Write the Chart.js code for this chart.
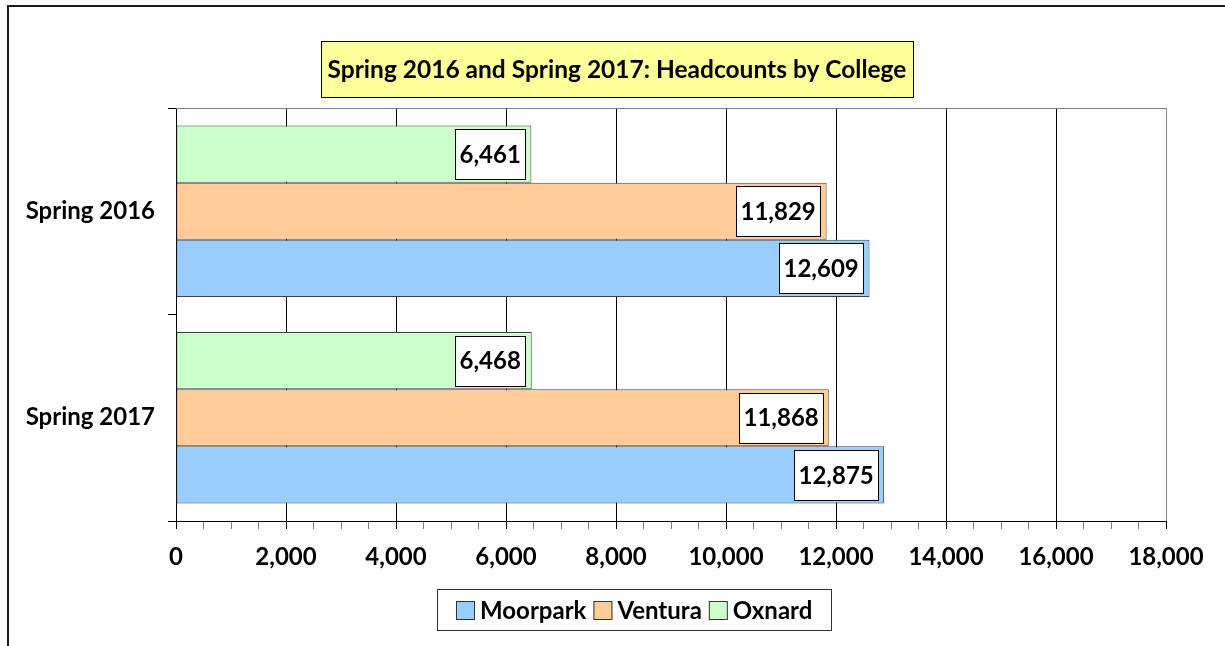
<!DOCTYPE html>
<html>
<head>
<meta charset="utf-8">
<script src="https://cdn.jsdelivr.net/npm/chart.js@4"></script>
<style>
html,body{margin:0;padding:0;background:#fff;}
#wrap{position:relative;width:1225px;height:646px;}
</style>
</head>
<body>
<div id="wrap"><canvas id="c" width="1225" height="646"></canvas></div>
<script>
const titleText = 'Spring 2016 and Spring 2017: Headcounts by College';
const categories = ['Spring 2016', 'Spring 2017'];
const seriesNames = ['Moorpark', 'Ventura', 'Oxnard'];
const moorpark = [12609, 12875];
const ventura = [11829, 11868];
const oxnard = [6461, 6468];
const xTickLabels = [0, 2000, 4000, 6000, 8000, 10000, 12000, 14000, 16000, 18000];

const colors = { Moorpark: '#99CCFF', Ventura: '#FFCC99', Oxnard: '#CCFFCC' };
const FONT = 'Lato, "Open Sans", sans-serif';
const fmt = v => v.toLocaleString('en-US');

const decor = {
  id: 'decor',
  beforeDraw(chart) {
    const ctx = chart.ctx;
    ctx.save();
    ctx.fillStyle = '#fff';
    ctx.fillRect(0, 0, chart.width, chart.height);
    ctx.strokeStyle = '#1a1a1a';
    ctx.lineWidth = 2;
    ctx.strokeRect(8, 6, chart.width + 40, chart.height + 40);
    ctx.fillStyle = '#FFFF99';
    ctx.fillRect(321, 41, 592, 56);
    ctx.strokeStyle = '#000';
    ctx.lineWidth = 1;
    ctx.strokeRect(321.5, 41.5, 592, 56);
    ctx.fillStyle = '#000';
    ctx.font = 'bold 24.5px ' + FONT;
    ctx.textAlign = 'center';
    ctx.textBaseline = 'middle';
    ctx.fillText(titleText, 617, 70);
    ctx.restore();
  },
  beforeDatasetsDraw(chart) {
    const a = chart.chartArea, ctx = chart.ctx;
    ctx.save();
    ctx.strokeStyle = '#808080';
    ctx.lineWidth = 1;
    ctx.beginPath();
    ctx.moveTo(a.left, Math.round(a.top) + 0.5);
    ctx.lineTo(a.right, Math.round(a.top) + 0.5);
    ctx.stroke();
    ctx.restore();
  },
  afterDatasetsDraw(chart) {
    const ctx = chart.ctx;
    ctx.save();
    ctx.font = 'bold 24px ' + FONT;
    ctx.textBaseline = 'middle';
    ctx.textAlign = 'center';
    chart.data.datasets.forEach((ds, i) => {
      chart.getDatasetMeta(i).data.forEach((bar, j) => {
        const txt = fmt(ds.data[j]);
        const w = ctx.measureText(txt).width + 9;
        const h = 50;
        const right = bar.x - 6;
        const x0 = Math.round(right - w), y0 = Math.round(bar.y - h / 2);
        ctx.fillStyle = '#fff';
        ctx.fillRect(x0, y0, Math.round(w), h);
        ctx.strokeStyle = '#000';
        ctx.lineWidth = 1;
        ctx.strokeRect(x0 + 0.5, y0 + 0.5, Math.round(w), h);
        ctx.fillStyle = '#000';
        ctx.fillText(txt, x0 + w / 2, bar.y + 1);
      });
    });
    ctx.restore();
  },
  afterDraw(chart) {
    const ctx = chart.ctx;
    ctx.save();
    ctx.fillStyle = '#fff';
    ctx.fillRect(437, 589, 394, 41);
    ctx.strokeStyle = '#333';
    ctx.lineWidth = 1;
    ctx.strokeRect(437.5, 589.5, 394, 41);
    ctx.font = 'bold 24px ' + FONT;
    ctx.textBaseline = 'middle';
    ctx.textAlign = 'left';
    const cy = 610;
    const sq = 19, gapIn = 5, gapOut = 7;
    const widths = seriesNames.map(n => ctx.measureText(n).width);
    const total = widths.reduce((a, b) => a + b, 0) + seriesNames.length * (sq + gapIn) + (seriesNames.length - 1) * gapOut;
    let x = Math.round(437 + (394 - total) / 2);
    seriesNames.forEach((n, i) => {
      ctx.fillStyle = colors[n];
      ctx.fillRect(x, cy - 9, sq, sq);
      ctx.strokeStyle = '#333';
      ctx.strokeRect(x + 0.5, cy - 9 + 0.5, sq - 1, sq - 1);
      x += sq + gapIn;
      ctx.fillStyle = '#000';
      ctx.fillText(n, x, cy + 1);
      x += widths[i] + gapOut;
    });
    ctx.restore();
  }
};

const mk = (label, data) => ({
  label, data,
  backgroundColor: colors[label],
  borderColor: '#404040',
  borderWidth: 1,
  borderSkipped: false,
  categoryPercentage: 0.83,
  barPercentage: 1.0
});

new Chart(document.getElementById('c'), {
  type: 'bar',
  data: {
    labels: categories,
    datasets: [mk('Oxnard', oxnard), mk('Ventura', ventura), mk('Moorpark', moorpark)]
  },
  options: {
    indexAxis: 'y',
    responsive: false,
    animation: false,
    layout: { padding: { top: 108, right: 59, bottom: 0, left: 0 } },
    plugins: { legend: { display: false }, title: { display: false }, tooltip: { enabled: false } },
    scales: {
      x: {
        min: 0, max: 18000,
        afterBuildTicks: s => {
          const t = [];
          for (let v = 0; v <= 18000; v += 500) t.push({ value: v });
          s.ticks = t;
        },
        afterFit: s => { s.height = 125; },
        ticks: {
          autoSkip: false, maxRotation: 0,
          callback: v => xTickLabels.includes(v) ? fmt(v) : '',
          font: { family: FONT, size: 24, weight: 'bold' },
          color: '#000',
          padding: 14
        },
        grid: {
          color: c => (c.tick && c.tick.value % 2000 === 0) ? (c.tick.value === 18000 ? '#808080' : '#000') : 'rgba(0,0,0,0)',
          tickColor: c => (c.tick && c.tick.value % 2000 === 0) ? '#000' : '#808080',
          tickLength: 8,
          lineWidth: 1
        },
        border: { color: '#000', width: 1 }
      },
      y: {
        afterFit: s => { s.width = 176; },
        ticks: {
          font: { family: FONT, size: 24, weight: 'bold' },
          color: '#000',
          padding: 13
        },
        grid: { drawOnChartArea: false, tickLength: 8, tickColor: '#000', offset: true },
        border: { color: '#000', width: 1 }
      }
    }
  },
  plugins: [decor]
});
</script>
</body>
</html>
